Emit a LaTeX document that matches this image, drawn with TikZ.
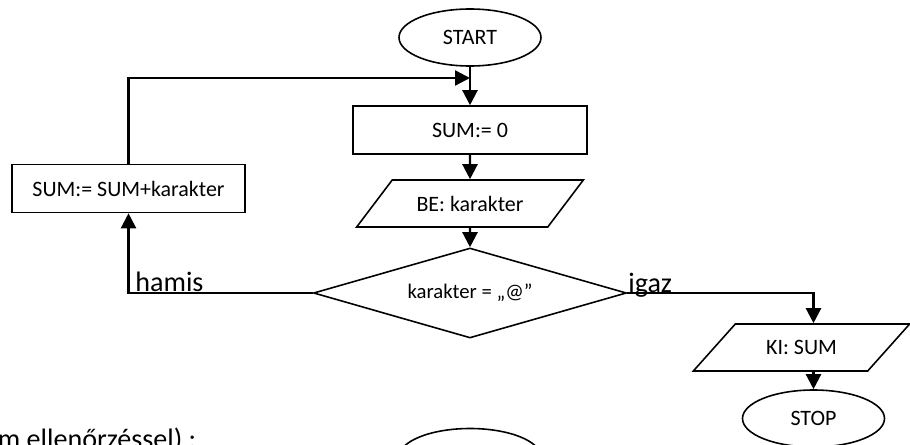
\documentclass[tikz,border=0pt]{standalone}
\usepackage{fontspec}
\setmainfont{Carlito}
\usetikzlibrary{shapes.geometric,arrows.meta}
\begin{document}
\begin{tikzpicture}[
			hatar/.style={
				ellipse,
				draw=black,
				line width=0.9pt,
				minimum width=2.84cm,
				minimum height=1.14cm,
				inner sep=0pt,
				font=\fontsize{12.5}{15}\selectfont
			},
			muv/.style={
				rectangle,
				draw=black,
				line width=0.9pt,
				minimum width=4.68cm,
				minimum height=0.96cm,
				font=\fontsize{12.5}{15}\selectfont
			},
			adat/.style={
				trapezium,
				trapezium left angle=45,
				trapezium right angle=135,
				trapezium stretches=true,
				draw=black,
				line width=0.9pt,
				minimum width=4.56cm,
				minimum height=0.94cm,
				font=\fontsize{12.5}{15}\selectfont
			},
			dont/.style={
				diamond,
				aspect=3.5,
				draw=black,
				line width=0.9pt,
				minimum width=6.26cm,
				minimum height=1.8cm,
				inner sep=0pt,
				font=\fontsize{11.8}{14}\selectfont
			},
			nyil/.style={line width=1.3pt,-{Triangle[width=0.3cm,length=0.3cm]}},
			felirat/.style={anchor=base west,inner sep=0pt,font=\fontsize{16}{19}\selectfont}
			]
			\path[use as bounding box,clip] (0,0) rectangle (18.2,8.88);
			%---------------- ELEMEK ----------------
			\node[hatar] (start) at (9.4,8.13) {START};
			\node[muv] (nulla) at (9.4,6.28) {SUM:= 0};
			\node[adat] (be) at (9.4,4.81) {BE: karakter};
			\node[dont] (felt) at (9.4,3.02) {karakter = „@”};
			\node[muv,minimum width=4.66cm] (osszeg) at (2.57,5.11) {SUM:= SUM+karakter};
			\node[adat,minimum width=4.34cm] (ki) at (16.03,1.93) {KI: SUM};
			\node[hatar] (stop) at (16.27,0.51) {STOP};
			\node[hatar] (start2) at (9.4,-0.26) {};
			\coordinate (csat) at (9.4,7.32);
			%---------------- NYILAK ----------------
			\draw[nyil] (start) -- (nulla);
			\draw[nyil] (nulla) -- (be);
			\draw[nyil] (be) -- (felt);
			\draw[nyil] (osszeg.north) |- (csat);
			\draw[nyil] (felt.west) -| (osszeg.south);
			\draw[nyil] (felt.east) -| (stop.north |- ki.north);
			\draw[nyil] (stop.north |- ki.south) -- (stop);
			%---------------- FELIRATOK ----------------
			\node[felirat] (hamis) at (2.7,3.06) {hamis};
			\node[felirat] (igaz) at (12.56,3.04) {igaz};
			\node[felirat] (cim) at (-0.05,-0.08) {m ellenőrzéssel) :};
		\end{tikzpicture}
\end{document}
